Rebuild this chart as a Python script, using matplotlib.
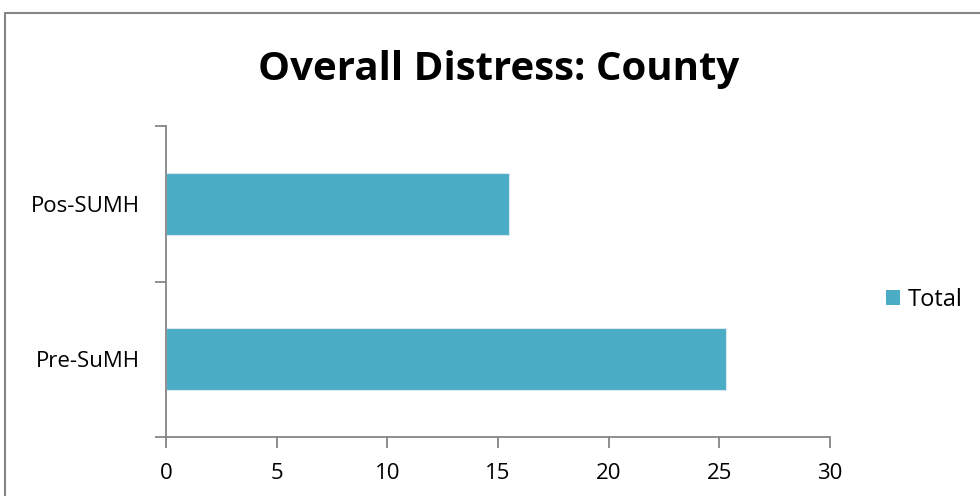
import matplotlib
matplotlib.use("Agg")
import matplotlib.pyplot as plt
from matplotlib.patches import Rectangle, Patch
import numpy as np

categories = ["Pre-SuMH", "Pos-SUMH"]
values = [25.3, 15.5]
xticks = [0, 5, 10, 15, 20, 25, 30]
series_name = "Total"
title = "Overall Distress: County"

bar_color = "#4BACC6"
axis_color = "#868686"
font = ["Open Sans", "DejaVu Sans"]

fig = plt.figure(figsize=(9.8, 4.96), dpi=100)
fig.patch.set_facecolor("white")

# outer chart border (partially cropped at right/bottom)
fig.add_artist(Rectangle((5/980, -0.1), 1.2, 1 - 13/496 + 0.1, transform=fig.transFigure,
                         fill=False, edgecolor=axis_color, linewidth=1.5))

ax = fig.add_axes([166/980, 1 - 437/496, (830-166)/980, (437-126)/496])
y = np.arange(len(categories))
ax.barh(y, values, height=0.4, color=bar_color, edgecolor="#d8e8ee", linewidth=0.8, label=series_name)
ax.set_xlim(0, 30)
ax.set_ylim(-0.5, 1.5)
ax.set_xticks(xticks)
ax.set_xticklabels([str(t) for t in xticks], fontfamily=font, fontsize=16)
ax.set_yticks([-0.5, 0.5, 1.5])
ax.set_yticklabels([])
ax.set_yticks(y, minor=True)
ax.set_yticklabels(categories, minor=True, fontfamily=font, fontsize=16)
ax.tick_params(axis="y", which="minor", length=0, pad=19)
ax.tick_params(axis="y", which="major", length=8, color=axis_color, width=1.3)
ax.tick_params(axis="x", length=8, color=axis_color, width=1.3, pad=11)
for s in ["top", "right"]:
    ax.spines[s].set_visible(False)
for s in ["left", "bottom"]:
    ax.spines[s].set_color(axis_color)
    ax.spines[s].set_linewidth(1.3)

fig.text(499/980, 1 - 80/496, title, ha="center", va="baseline", fontfamily=font,
         fontsize=29, fontweight="bold")

fig.legend(handles=[Patch(facecolor=bar_color, label=series_name)], loc="center left",
           bbox_to_anchor=(886/980, 1 - 300/496), frameon=False,
           prop={"family": font, "size": 17}, handlelength=0.6, handleheight=0.6,
           handletextpad=0.3, borderaxespad=0, borderpad=0)

fig.savefig("out.png", dpi=100)
